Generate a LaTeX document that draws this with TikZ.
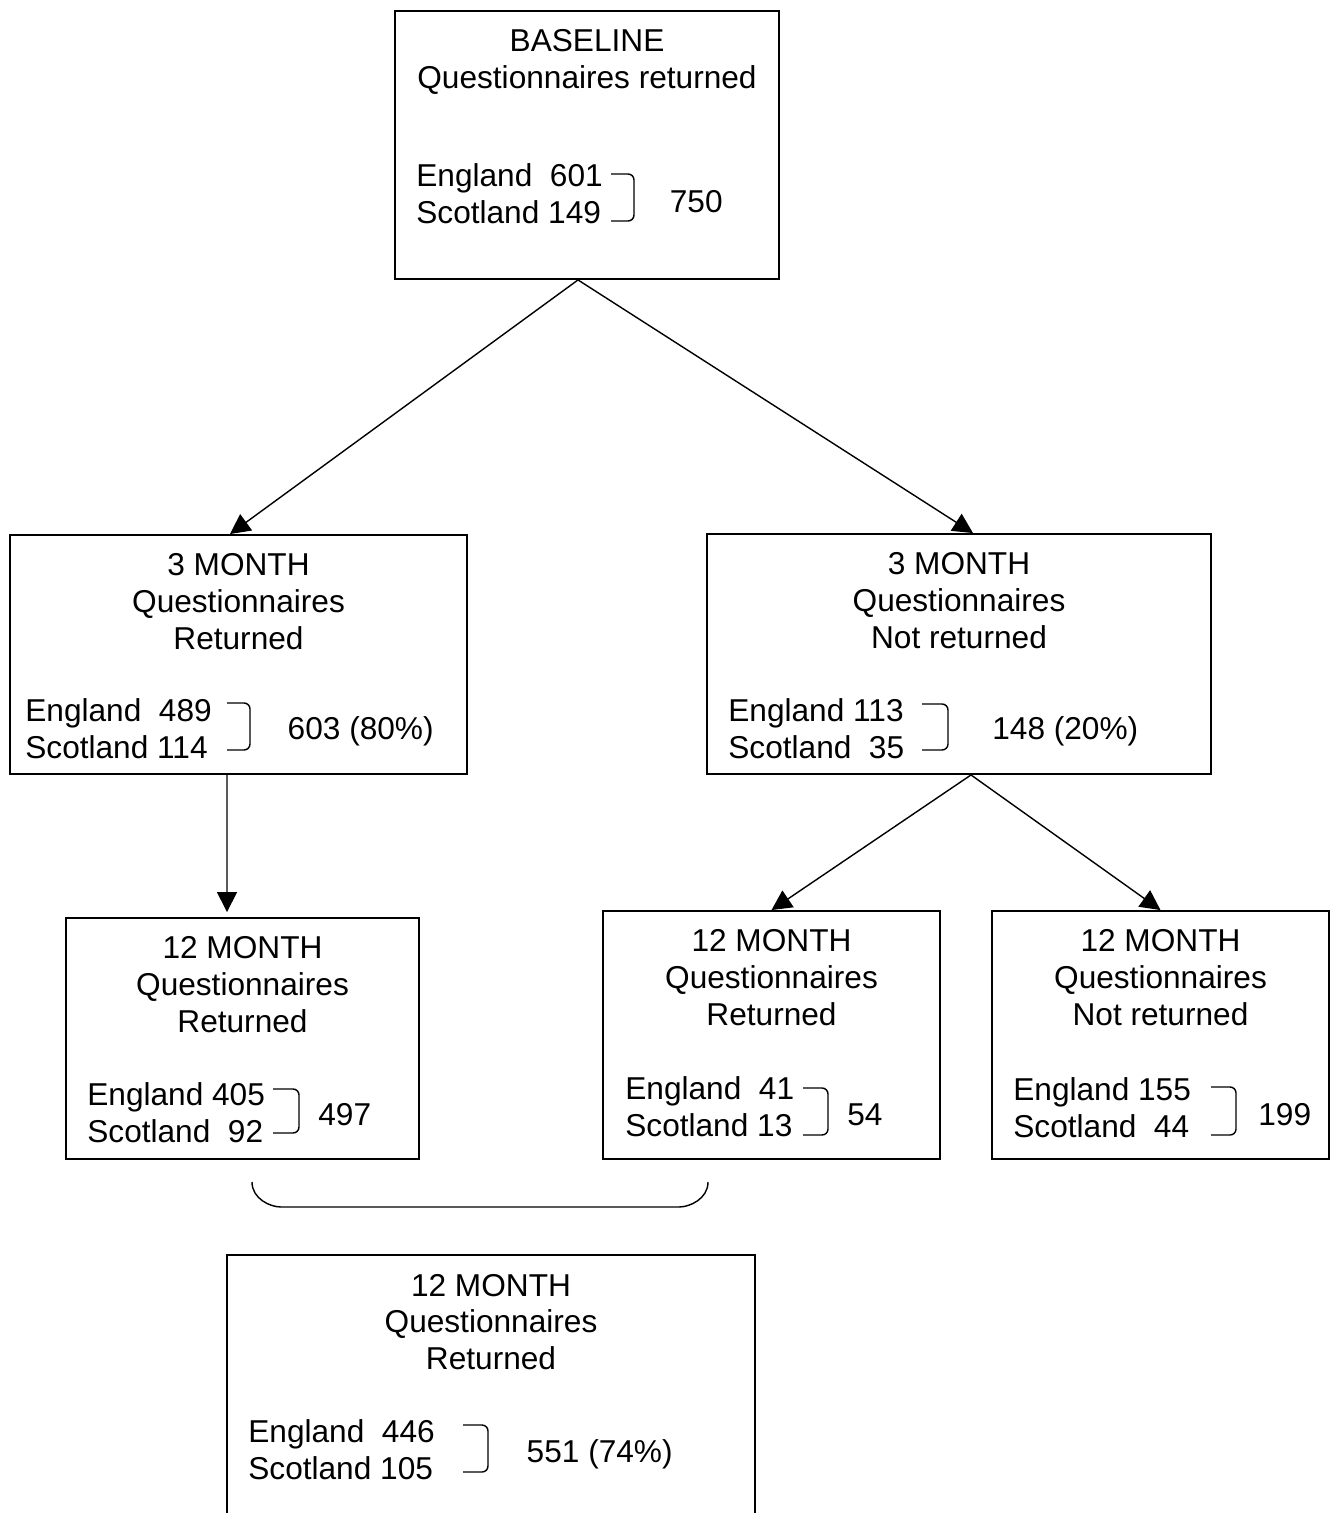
\documentclass[tikz,border=0pt]{standalone}
\usepackage{fontspec}
\setmainfont{Liberation Sans}
\usetikzlibrary{positioning,arrows.meta}

\newcommand{\sumbrace}[4]{\draw[brk] (#1,#3) -| (#2,{(#3+#4)/2}) |- (#1,#4);}

\begin{document}
\begin{tikzpicture}[x=0.02cm, y=-0.02cm, font=\fontsize{18}{21}\selectfont,
  box/.style={draw, line width=1.1pt, inner sep=0pt},
  title/.style={align=center, inner sep=0pt},
  counts/.style={align=left, inner sep=0pt, anchor=west},
  total/.style={inner sep=0pt},
  arr/.style={-{Triangle[length=0.4cm,width=0.4cm]}, line width=0.8pt},
  brk/.style={line width=0.8pt, rounded corners=0.12cm}]
\clip (0,0) rectangle (1334,1513);

\node[box, minimum width=7.68cm, minimum height=5.36cm] (base) at (587,145) {};
\node[box, minimum width=9.14cm, minimum height=4.78cm] (ret3) at (238.5,654.5) {};
\node[box, minimum width=10.08cm, minimum height=4.8cm] (not3) at (959,654) {};
\node[box, minimum width=7.06cm, minimum height=4.82cm] (ret12a) at (242.5,1038.5) {};
\node[box, minimum width=6.74cm, minimum height=4.96cm] (ret12b) at (771.5,1035) {};
\node[box, minimum width=6.74cm, minimum height=4.96cm] (not12) at (1160.5,1035) {};
\node[box, minimum width=10.56cm, minimum height=6.1cm] (tot12) at (491,1407.5) {};

\node[title, below=0.39cm of base.north] (baseT) {BASELINE\\Questionnaires returned};
\node[title, below=0.39cm of ret3.north] (ret3T) {3 MONTH\\Questionnaires\\Returned};
\node[title, below=0.39cm of not3.north] (not3T) {3 MONTH\\Questionnaires\\Not returned};
\node[title, below=0.39cm of ret12a.north] (ret12aT) {12 MONTH\\Questionnaires\\Returned};
\node[title, below=0.39cm of ret12b.north] (ret12bT) {12 MONTH\\Questionnaires\\Returned};
\node[title, below=0.39cm of not12.north] (not12T) {12 MONTH\\Questionnaires\\Not returned};
\node[title, below=0.39cm of tot12.north] (tot12T) {12 MONTH\\Questionnaires\\Returned};

\node[counts] (baseC) at (416,193.5) {England\ \ 601\\Scotland 149};
\node[counts] (ret3C) at (25,729) {England\ \ 489\\Scotland 114};
\node[counts] (not3C) at (728,728.5) {England 113\\Scotland\ \ 35};
\node[counts] (ret12aC) at (87,1113) {England 405\\Scotland\ \ 92};
\node[counts] (ret12bC) at (625,1106.5) {England\ \ 41\\Scotland 13};
\node[counts] (not12C) at (1013,1107.5) {England 155\\Scotland\ \ 44};
\node[counts] (tot12C) at (248,1450) {England\ \ 446\\Scotland 105};

\node[total, anchor=base east] (baseN) at (723,213) {750};
\node[total, anchor=base east] (ret3N) at (434,739) {603 (80\%)};
\node[total, anchor=base west] (not3N) at (992,739) {148 (20\%)};
\node[total, anchor=base west] (ret12aN) at (318,1125) {497};
\node[total, anchor=base west] (ret12bN) at (847,1125) {54};
\node[total, anchor=base west] (not12N) at (1258,1125) {199};
\node[total, anchor=base east] (tot12N) at (673,1462) {551 (74\%)};

\sumbrace{611}{634}{174}{221}
\sumbrace{227}{250}{703}{750}
\sumbrace{922}{948}{704}{750}
\sumbrace{273}{299}{1089}{1133}
\sumbrace{803}{828}{1088}{1135}
\sumbrace{1211}{1236}{1087}{1135}
\sumbrace{463}{488}{1425}{1472}

% the two 12 month returned groups
\draw[brk] (252,1182) to[out=-90,in=180] (287,1207) -- (673,1207) to[out=0,in=-90] (708,1182);

\draw[arr] ([xshift=-0.18cm]base.south) -- ([xshift=-0.17cm]ret3.north);
\draw[arr] ([xshift=-0.18cm]base.south) -- ([xshift=0.28cm]not3.north);
\draw[arr] ([xshift=-0.23cm]ret3.south) -- ([xshift=-0.31cm,yshift=0.1cm]ret12a.north);
\draw[arr] ([xshift=0.24cm]not3.south) -- (ret12b.north);
\draw[arr] ([xshift=0.24cm]not3.south) -- (not12.north);
\end{tikzpicture}
\end{document}
